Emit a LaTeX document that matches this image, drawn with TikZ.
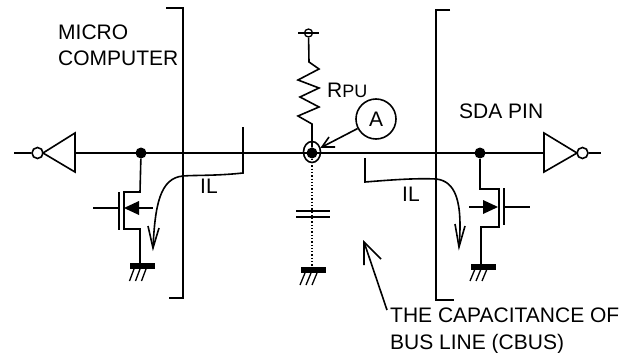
\documentclass[tikz,border=0pt]{standalone}
\usepackage{fontspec}
\setmainfont{Liberation Sans}
\usepackage{xcolor}
\usepackage{tikz}
\usetikzlibrary{shapes.geometric}

\tikzset{
    wire/.style = {line width = 1.6pt},
    thin wire/.style = {line width = 1.3pt},
    busdot/.style = {circle, fill = black, inner sep = 0pt, minimum size = 11pt},
    bubble/.style = {circle, draw, line width = 1.6pt, fill = white, inner sep = 0pt, minimum size = 11pt},
    lbl/.style = {anchor = base west, inner sep = 0pt, font = \fontsize{21}{25}\selectfont},
    groundbar/.style = {fill = black, inner sep = 0pt, minimum width = 25pt, minimum height = 6pt}
}

\begin{document}
\begin{tikzpicture}[x = 1pt, y = -1pt]
        \useasboundingbox (0, 0) rectangle (635, 353);

        % bus line
        \coordinate (busl) at (14, 153);
        \coordinate (busr) at (601, 153);
        \node [bubble] (invlb) at (37.5, 153) {};
        \node [bubble] (invrb) at (582.5, 153) {};
        \node [busdot] (dotl) at (141, 153) {};
        \node [busdot] (dotr) at (480, 153) {};
        \draw [wire] (busl) -- (invlb);
        \draw [wire] (invrb) -- (busr);
        \draw [wire] (75, 153) -- (544, 153);

        % inverters
        \draw [wire] (75, 133) -- (75, 172) -- (43, 153) -- cycle;
        \draw [wire] (544, 133) -- (544, 172) -- (577, 153) -- cycle;

        % brackets
        \draw [wire] (166, 8) -- (183, 8) -- (183, 298) -- (169, 298);
        \draw [wire] (450, 10) -- (436, 10) -- (436, 300) -- (454, 300);

        % left transistor
        \node [groundbar] (gndl) at (142, 266) {};
        \draw [wire] (dotl) -- (140, 192) -- (124, 192) -- (124, 229) -- (140, 229) -- (140, 263);
        \draw [wire] (119, 192) -- (119, 230);
        \draw [wire] (93, 208) -- (119, 208);
        \draw [thin wire] (139, 208) -- (153, 208);
        \fill (124, 208) -- (139, 201) -- (139, 215) -- cycle;
        \foreach \i in {0, 6, 12}
            \draw [thin wire] (134 + \i, 269) -- (129.5 + \i, 281);

        % right transistor
        \node [groundbar] (gndr) at (483.5, 266.5) {};
        \draw [wire] (dotr) -- (480, 189) -- (499, 189) -- (499, 227) -- (481, 227) -- (481, 264);
        \draw [wire] (504, 188) -- (504, 225);
        \draw [wire] (503, 207) -- (530, 207);
        \draw [thin wire] (469, 207) -- (483, 207);
        \fill (498, 207) -- (483, 200) -- (483, 214) -- cycle;
        \foreach \i in {0, 6, 12}
            \draw [thin wire] (475 + \i, 269) -- (470 + \i, 281);

        % pull up resistor
        \node [circle, draw, line width = 1.3pt, inner sep = 0pt, minimum size = 8pt] (vdd) at (308.5, 33) {};
        \draw [wire] (298, 33) -- (319, 33);
        \node [ellipse, draw, line width = 1.6pt, inner sep = 0pt, minimum width = 17pt, minimum height = 21pt] (tap) at (312, 152) {};
        \node [busdot] (tapdot) at (312, 153) {};
        \draw [wire] (vdd) -- (309, 62) -- (319, 69) -- (298, 80) -- (319, 88) -- (300, 97)
            -- (319, 107) -- (298, 116) -- (312, 124) -- (tapdot);

        % bus capacitance
        \node [groundbar] (gndc) at (313, 270) {};
        \draw [thin wire, dotted] (tapdot) -- (312, 267);
        \draw [wire] (296, 211) -- (330, 211);
        \draw [wire] (296, 217) -- (330, 217);
        \foreach \i in {0, 6, 12}
            \draw [thin wire] (305 + \i, 273) -- (300 + \i, 285);

        % probe
        \node [circle, draw, line width = 1.6pt, inner sep = 0pt, minimum size = 40pt,
            font = \fontsize{21}{25}\selectfont] (probe) at (376, 119) {A};
        \coordinate (probetip) at (322, 147);
        \draw [wire] (probe) -- (probetip);
        \draw [wire] (329, 137) -- (probetip) -- (335, 147);

        % leak currents
        \draw [wire] (243, 127) -- (243, 173) .. controls (215, 176) and (195, 175) .. (183, 176)
            .. controls (160, 178) and (155, 205) .. (153, 248);
        \draw [wire] (148, 226) -- (153, 248) -- (159, 228);
        \draw [wire] (365, 158) -- (365, 182) .. controls (390, 180) and (415, 178) .. (436, 179)
            .. controls (455, 181) and (463, 200) .. (459, 247);
        \draw [wire] (455, 224) -- (459, 247) -- (465, 226);

        % capacitance pointer
        \coordinate (captip) at (364, 242);
        \draw [wire] (387, 310) -- (captip);
        \draw [wire] (364, 265) -- (captip) -- (381, 259);

        % labels
        \node [lbl] (micro) at (58, 40) {MICRO};
        \node [lbl] (computer) at (58, 66) {COMPUTER};
        \node [lbl] (rpu) at (327, 98) {R\fontsize{18}{20}\selectfont PU};
        \node [lbl] (sda) at (459, 118) {SDA PIN};
        \node [lbl] (ill) at (200, 193) {IL};
        \node [lbl] (ilr) at (402, 201) {IL};
        \node [lbl] (cap1) at (390, 322) {THE CAPACITANCE OF};
        \node [lbl] (cap2) at (390, 349) {BUS LINE (CBUS)};
\end{tikzpicture}
\end{document}
